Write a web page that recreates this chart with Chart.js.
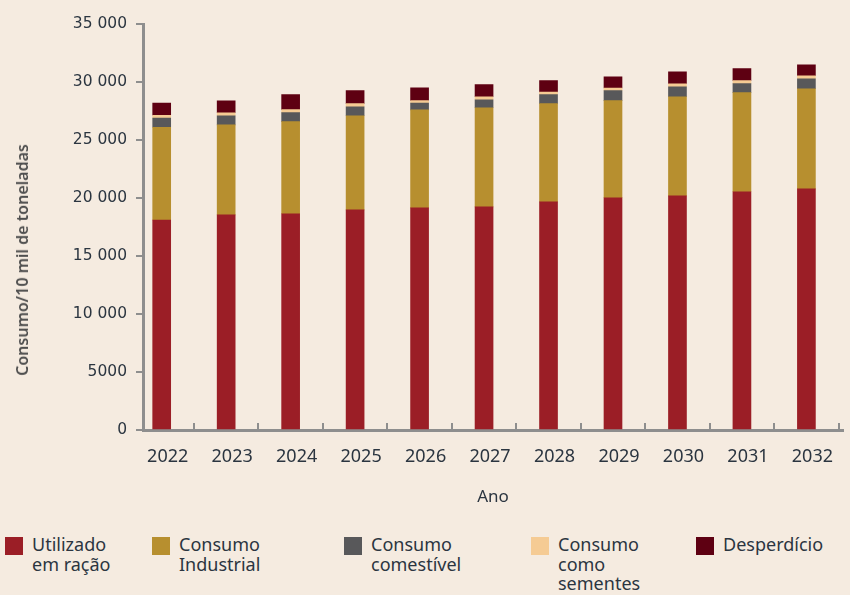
<!DOCTYPE html>
<html lang="pt">
<head>
<meta charset="utf-8">
<script src="https://cdn.jsdelivr.net/npm/chart.js@4.4.1/dist/chart.umd.min.js"></script>
<style>
  html, body { margin: 0; padding: 0; background: #F5EBE0; }
  #wrap { position: relative; width: 850px; height: 595px; overflow: hidden; font-family: "Noto Sans", sans-serif; }
  #chartBox { position: absolute; left: 0; top: 0; width: 850px; height: 515px; }
  #yTitle { position: absolute; left: 22px; top: 260px; transform: translate(-50%, -50%) rotate(-90deg);
            white-space: nowrap; color: #4E4E4E; font-size: 16px; font-weight: 600; line-height: 18px; }
  #legend { position: absolute; left: 0; top: 535px; width: 850px; display: grid;
            grid-template-columns: 147px 192px 187px 165px 159px; color: #2B3540; font-size: 18px; line-height: 19.5px; }
  .item { display: flex; align-items: flex-start; }
  .sw { width: 18px; height: 18px; margin: 2px 9px 0 5px; flex: none; }
</style>
</head>
<body>
<div id="wrap">
  <div id="chartBox"><canvas id="chart"></canvas></div>
  <div id="yTitle">Consumo/10 mil de toneladas</div>
  <div id="legend"></div>
</div>
<script>
// categories
const years = ['2022', '2023', '2024', '2025', '2026', '2027', '2028', '2029', '2030', '2031', '2032'];

// series (10 mil toneladas)
const racao       = [18100, 18550, 18640, 18980, 19150, 19240, 19670, 20020, 20190, 20540, 20790];
const industrial  = [8000, 7760, 7940, 8110, 8450, 8540, 8460, 8370, 8540, 8540, 8630];
const comestivel  = [800, 780, 780, 780, 580, 690, 780, 860, 860, 780, 860];
const sementes    = [230, 260, 260, 260, 220, 260, 230, 230, 260, 260, 260];
const desperdicio = [1050, 1035, 1300, 1120, 1100, 1040, 975, 975, 1035, 1035, 950];

// legend text, split as in the picture
const seriesLines = [
  ['Utilizado', 'em ração'],
  ['Consumo', 'Industrial'],
  ['Consumo', 'comestível'],
  ['Consumo', 'como', 'sementes'],
  ['Desperdício']
];

const yTickLabels = ['0', '5000', '10 000', '15 000', '20 000', '25 000', '30 000', '35 000'];

const COLORS = ['#9B1E26', '#B78F2F', '#58585A', '#F5CB94', '#5E0012'];
const AXIS = '#8E8E8E';
const TEXT = '#2B3540';

const series = [racao, industrial, comestivel, sementes, desperdicio];

const _data = {
  datasets: series.map((values, i) => ({
    label: seriesLines[i].join(' '),
    data: values.map((v, k) => ({ x: Number(years[k]), y: v })),
    backgroundColor: COLORS[i],
    borderWidth: 0,
    barThickness: 18
  }))
};

const _config = {
  type: 'bar',
  data: _data,
  options: {
    responsive: false,
    animation: false,
    layout: { padding: { top: 24, right: 0, left: 0, bottom: 0 } },
    plugins: {
      legend: { display: false },
      tooltip: { enabled: false }
    },
    scales: {
      x: {
        type: 'linear',
        offset: false,
        stacked: true,
        min: 2021.71,
        max: 2032.57,
        afterBuildTicks: (s) => { s.ticks = years.map((y) => ({ value: Number(y) })); },
        grid: { drawOnChartArea: false, offset: true, tickLength: -7, color: AXIS, lineWidth: 2 },
        border: { color: AXIS, width: 3 },
        ticks: {
          color: TEXT, font: { family: 'Noto Sans', size: 18 }, padding: 23, maxRotation: 0,
          labelOffset: 6,
          callback: (v, i) => years[i]
        },
        title: {
          display: true, text: 'Ano', color: TEXT,
          font: { family: 'Noto Sans', size: 17 }, padding: { top: 4, bottom: 8 }
        },
        afterFit: (s) => { s.height = 85; }
      },
      y: {
        stacked: true,
        min: 0,
        max: 35000,
        grid: { drawOnChartArea: false, tickLength: 7, color: AXIS, lineWidth: 2 },
        border: { color: AXIS, width: 3 },
        ticks: {
          stepSize: 5000,
          color: TEXT,
          padding: 9,
          font: { family: 'DejaVu Sans', size: 15.5 },
          callback: (v) => yTickLabels[v / 5000]
        },
        afterFit: (s) => { s.width = 143; }
      }
    }
  }
};

const canvas = document.getElementById('chart');
canvas.width = 850;
canvas.height = 515;
const chartAm = new Chart(canvas, _config);

// html legend built from the same series
const _legend = document.getElementById('legend');
seriesLines.forEach((lines, i) => {
  const item = document.createElement('div');
  item.className = 'item';
  const sw = document.createElement('span');
  sw.className = 'sw';
  sw.style.background = COLORS[i];
  const txt = document.createElement('span');
  txt.innerHTML = lines.join('<br>');
  item.appendChild(sw);
  item.appendChild(txt);
  _legend.appendChild(item);
});
</script>
</body>
</html>
